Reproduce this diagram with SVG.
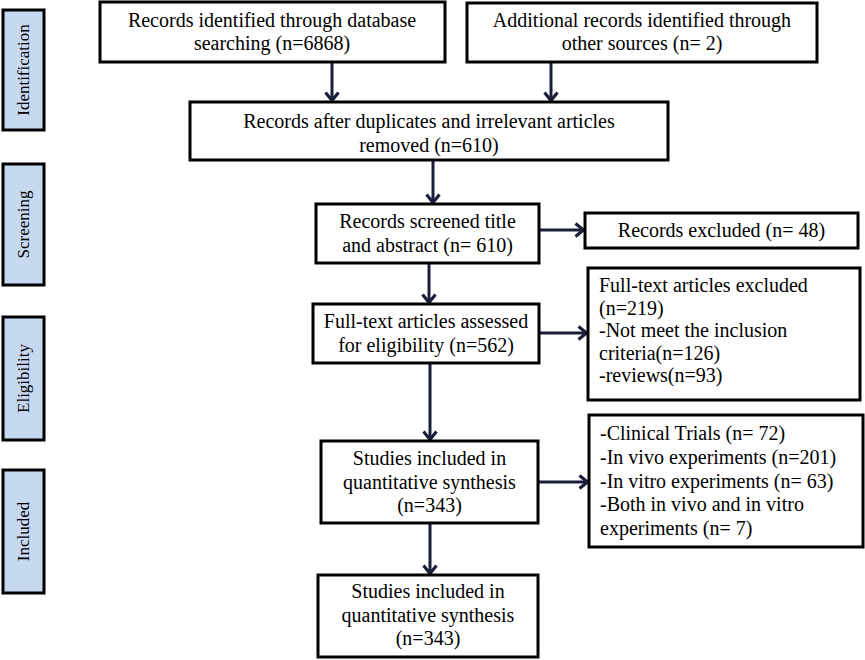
<svg xmlns="http://www.w3.org/2000/svg" width="865" height="660" viewBox="0 0 865 660">
<style>
.box{fill:#fff;stroke:#000;stroke-width:3}
.side{fill:#c6d9f1;stroke:#000;stroke-width:3}
text{font-family:"Liberation Serif","Times New Roman",serif;font-size:20px;fill:#000}
.c{text-anchor:middle}
.s{font-size:17px;text-anchor:middle}
.conn{stroke:#1b1e3a;stroke-width:3;fill:none}
</style>
<defs>
<marker id="ah" viewBox="0 0 12 16" refX="10.5" refY="8" markerWidth="12" markerHeight="16" markerUnits="userSpaceOnUse" orient="auto">
<path d="M2,1.5 L10,8 L2,14.5" fill="none" stroke="#1b1e3a" stroke-width="3.2"/>
</marker>
</defs>
<rect width="865" height="660" fill="#fff"/>

<g id="phase-identification"><rect class="side" x="3" y="10" width="41" height="120"/><text class="s" transform="translate(29,70) rotate(-90)">Identification</text></g>
<g id="phase-screening"><rect class="side" x="3" y="164" width="41" height="121"/><text class="s" transform="translate(29,224.5) rotate(-90)">Screening</text></g>
<g id="phase-eligibility"><rect class="side" x="3" y="317" width="41" height="123"/><text class="s" transform="translate(29,378.5) rotate(-90)">Eligibility</text></g>
<g id="phase-included"><rect class="side" x="3" y="470" width="41" height="123"/><text class="s" transform="translate(29,531.5) rotate(-90)">Included</text></g>

<g id="connectors">
<line class="conn" x1="332" y1="62" x2="332" y2="101" marker-end="url(#ah)"/>
<line class="conn" x1="551" y1="62" x2="551" y2="101" marker-end="url(#ah)"/>
<line class="conn" x1="433" y1="160" x2="433" y2="203" marker-end="url(#ah)"/>
<line class="conn" x1="429" y1="263" x2="429" y2="303" marker-end="url(#ah)"/>
<line class="conn" x1="430" y1="363" x2="430" y2="440" marker-end="url(#ah)"/>
<line class="conn" x1="430" y1="523" x2="430" y2="574" marker-end="url(#ah)"/>
<line class="conn" x1="539" y1="230" x2="584" y2="230" marker-end="url(#ah)"/>
<line class="conn" x1="539" y1="333" x2="587" y2="333" marker-end="url(#ah)"/>
<line class="conn" x1="538" y1="482" x2="588" y2="482" marker-end="url(#ah)"/>
</g>

<g id="db-records"><rect class="box" x="100" y="2" width="345" height="60"/><text class="c" x="272" y="27">Records identified through database</text><text class="c" x="272" y="50">searching (n=6868)</text></g>
<g id="other-records"><rect class="box" x="467" y="3" width="350" height="59"/><text class="c" x="642" y="27">Additional records identified through</text><text class="c" x="642" y="50">other sources (n= 2)</text></g>
<g id="after-duplicates"><rect class="box" x="190" y="102" width="478" height="58"/><text class="c" x="429" y="128">Records after duplicates and irrelevant articles</text><text class="c" x="429" y="152">removed (n=610)</text></g>
<g id="screened"><rect class="box" x="316" y="204" width="223" height="59"/><text class="c" x="427.5" y="228">Records screened title</text><text class="c" x="427.5" y="252">and abstract (n= 610)</text></g>
<g id="records-excluded"><rect class="box" x="585" y="213" width="273" height="35"/><text class="c" x="721.5" y="237">Records excluded (n= 48)</text></g>
<g id="fulltext-assessed"><rect class="box" x="313" y="304" width="226" height="59"/><text class="c" x="426" y="328">Full-text articles assessed</text><text class="c" x="426" y="352">for eligibility (n=562)</text></g>
<g id="fulltext-excluded"><rect class="box" x="588" y="268" width="272" height="132"/>
<text x="599" y="292">Full-text articles excluded</text>
<text x="599" y="314.5">(n=219)</text>
<text x="599" y="337">-Not meet the inclusion</text>
<text x="599" y="359.5">criteria(n=126)</text>
<text x="599" y="382">-reviews(n=93)</text></g>
<g id="studies-included"><rect class="box" x="321" y="441" width="217" height="82"/><text class="c" x="429.5" y="465">Studies included in</text><text class="c" x="429.5" y="488.5">quantitative synthesis</text><text class="c" x="429.5" y="512">(n=343)</text></g>
<g id="study-types"><rect class="box" x="589" y="415" width="274" height="132"/>
<text x="600" y="440">-Clinical Trials (n= 72)</text>
<text x="600" y="464">-In vivo experiments (n=201)</text>
<text x="600" y="487.5">-In vitro experiments (n= 63)</text>
<text x="600" y="511">-Both in vivo and in vitro</text>
<text x="600" y="535">experiments (n= 7)</text></g>
<g id="final-studies"><rect class="box" x="318" y="575" width="220" height="82"/><text class="c" x="428" y="598">Studies included in</text><text class="c" x="428" y="622">quantitative synthesis</text><text class="c" x="428" y="645">(n=343)</text></g>
</svg>
